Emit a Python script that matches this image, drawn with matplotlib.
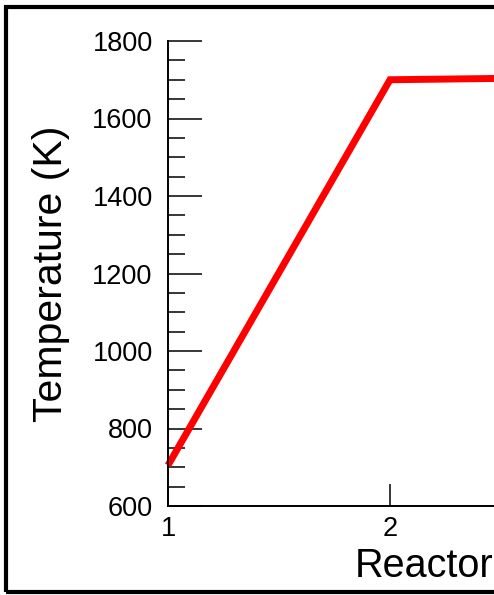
import numpy as np
import matplotlib
matplotlib.use("Agg")
import matplotlib.pyplot as plt
from matplotlib.patches import Rectangle
from matplotlib.ticker import MultipleLocator

# data
reactor = [1, 2, 3]
temperature = [705, 1700, 1707]

y_major = [600, 800, 1000, 1200, 1400, 1600, 1800]
x_major = [1, 2]  # only the ticks that show in the cropped view

plt.rcParams['font.family'] = ['Liberation Sans', 'DejaVu Sans']

W, H = 494, 595
fig = plt.figure(figsize=(W / 100, H / 100), dpi=100)

# axes placed in pixels, runs off the right side like the source
left_px, bottom_px, top_px = 168, 506, 41
ax = fig.add_axes([left_px / W, (H - bottom_px) / H,
                   444 / W, (bottom_px - top_px) / H])

ax.plot(reactor, temperature, color='#ff0000', lw=5, solid_capstyle='butt',
        solid_joinstyle='miter', clip_on=False)

ax.set_xlim(1, 3)
ax.set_ylim(600, 1800)
ax.set_yticks(y_major)
ax.set_xticks(x_major)
ax.yaxis.set_minor_locator(MultipleLocator(50))

for s in ['top', 'right']:
    ax.spines[s].set_visible(False)
for s in ['left', 'bottom']:
    ax.spines[s].set_linewidth(1.4)

ax.tick_params(axis='y', which='major', direction='in', length=24.5,
               width=1.1, pad=11, labelsize=19.5)
ax.tick_params(axis='y', which='minor', direction='in', length=12.2,
               width=1.1)
ax.tick_params(axis='x', which='major', direction='in', length=15.8,
               width=1.1, pad=7, labelsize=19.5)

ax.set_ylabel('Temperature (K)', fontsize=29.5)
ax.yaxis.set_label_coords((70 - left_px) / 444, 0.5)

ax.set_xlabel('Reactor', fontsize=28.5)
xl = ax.xaxis.label
xl.set_ha('left')
xl.set_va('baseline')
ax.xaxis.set_label_coords((355 - left_px) / 444, (bottom_px - 577) / (bottom_px - top_px))

# black frame round the figure (cut off on the right)
fig.patches.append(Rectangle((6 / W, 3 / H), 1.2, (H - 10) / H,
                             transform=fig.transFigure, fill=False,
                             edgecolor='black', linewidth=3, clip_on=False))

fig.savefig('out.png', dpi=100)
